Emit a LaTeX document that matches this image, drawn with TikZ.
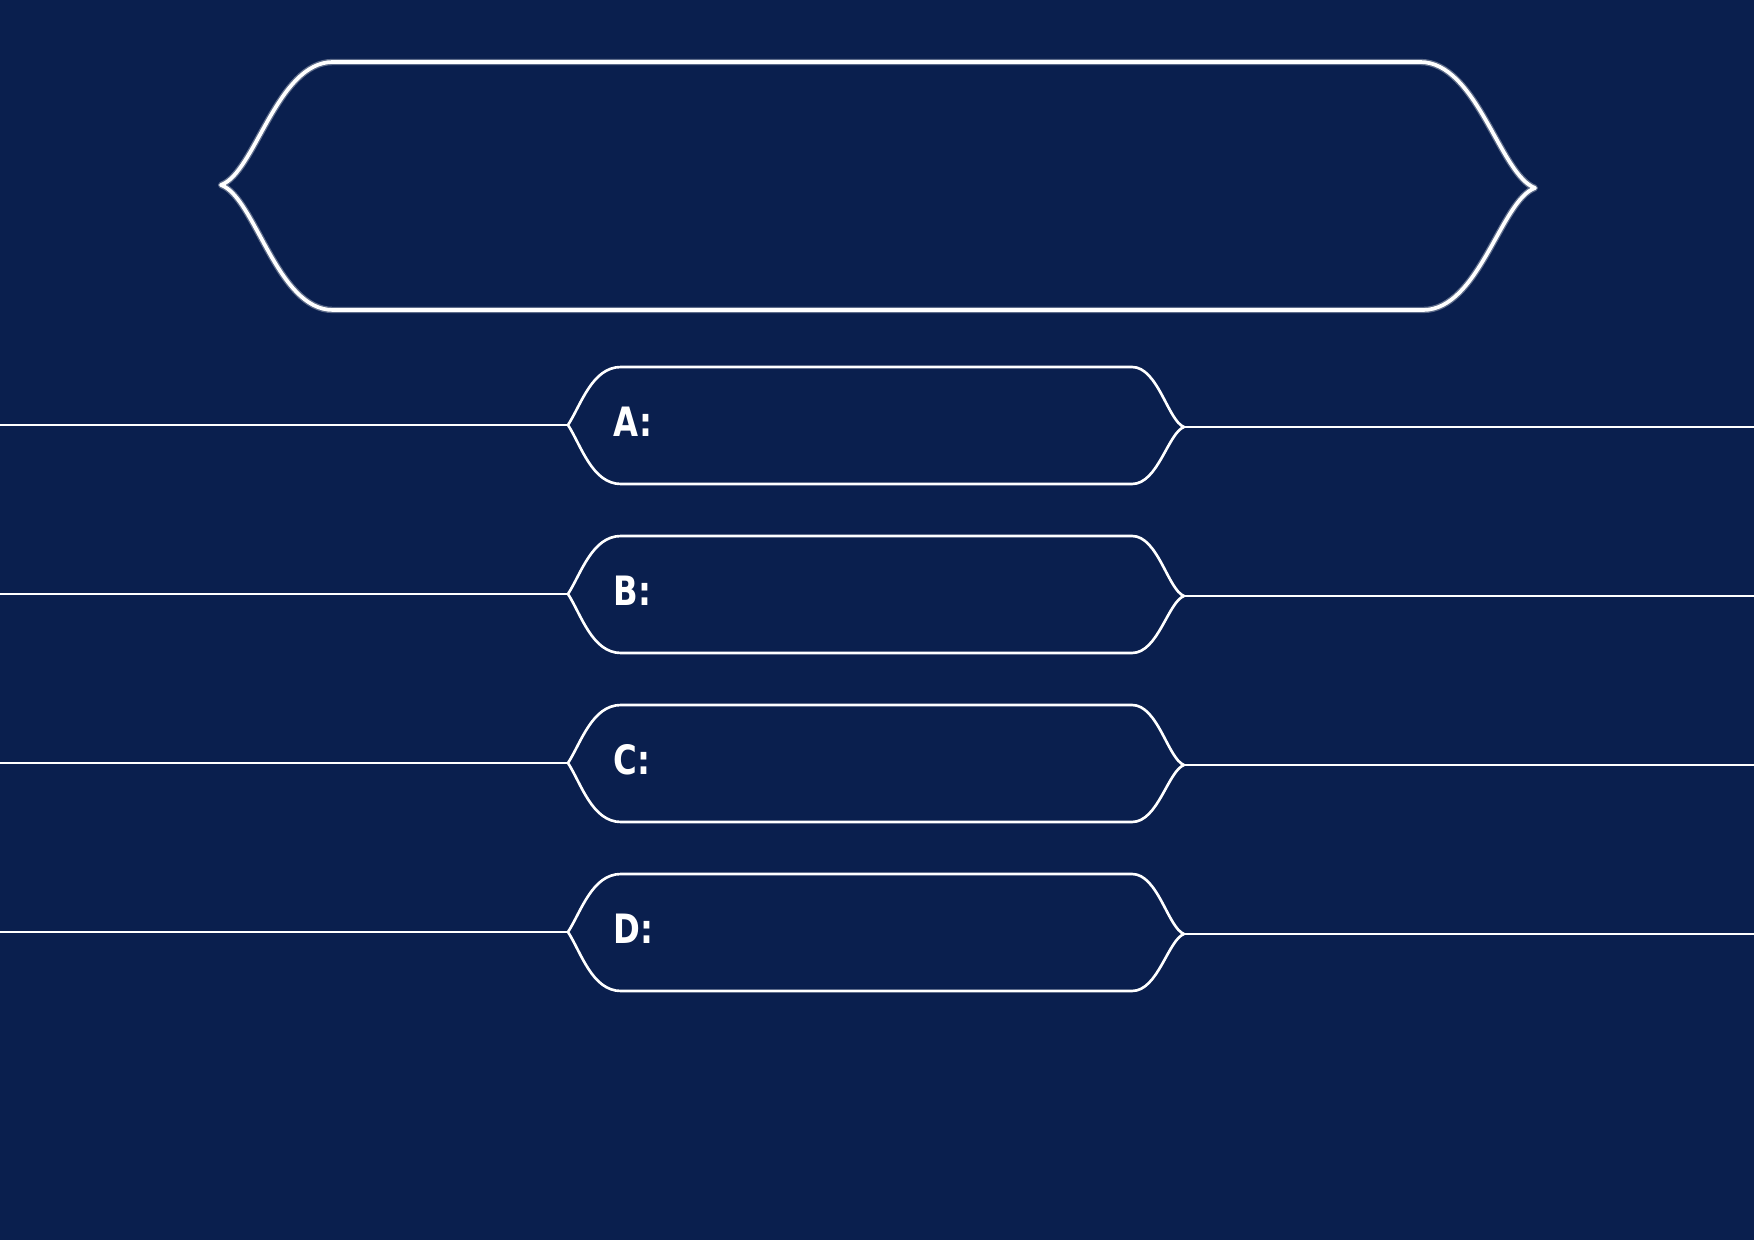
\documentclass[tikz,border=0pt]{standalone}
\usepackage{fontspec}
\newfontfamily\tagfont{DejaVu Sans}
\usepackage{xcolor}
\definecolor{quizblue}{HTML}{0A1F4E}
\usetikzlibrary{calc}

\begin{document}
\begin{tikzpicture}[x=0.01cm,y=-0.01cm,
    outline/.style={draw=white,line width=0.75pt,line join=round},
    banner/.style={draw=white,line width=1.05pt,line join=round},
    halo/.style={draw=white,opacity=0.35,line width=1.8pt,line join=round},
    rule/.style={draw=white,line width=0.35pt},
    tag/.style={anchor=west,text=white,inner sep=0pt,
      font=\tagfont\bfseries\fontsize{11.5}{13}\selectfont}]
  \fill[quizblue] (0,0) rectangle (1754,1240);
  \useasboundingbox (0,0) rectangle (1754,1240);

  % question banner
  \coordinate (qleft) at (221,185);
  \coordinate (qright) at (1535,188);
  \foreach \sty in {halo,banner}
    \draw[\sty] (qleft) .. controls (255,173) and (277,62) .. (333,62)
      -- (1420,62) .. controls (1477,62) and (1500,175) .. (qright)
      .. controls (1501,200) and (1479,310) .. (1423,310)
      -- (333,310) .. controls (277,310) and (255,197) .. cycle;

  % answer boxes
  \foreach \lbl/\c in {A/425,B/594,C/763,D/932}{
    \coordinate (tipL\lbl) at (568,\c);
    \coordinate (tipR\lbl) at (1184,\c+2);
    \coordinate (edgeL\lbl) at (0,\c);
    \coordinate (edgeR\lbl) at (1754,\c+2);
    \draw[rule] (edgeL\lbl) -- (tipL\lbl);
    \draw[rule] (tipR\lbl) -- (edgeR\lbl);
    \draw[outline] (tipL\lbl) .. controls (581,\c-20) and (592,\c-58) .. (621,\c-58)
      -- (1132,\c-58) .. controls (1158,\c-58) and (1168,\c-4) .. (tipR\lbl)
      .. controls (1168,\c+8) and (1158,\c+59) .. (1132,\c+59)
      -- (621,\c+59) .. controls (592,\c+59) and (581,\c+20) .. cycle;
    \node[tag] (tag\lbl) at (613,\c-3) {\scalebox{0.8}[1]{\lbl:}};
  }
\end{tikzpicture}
\end{document}
